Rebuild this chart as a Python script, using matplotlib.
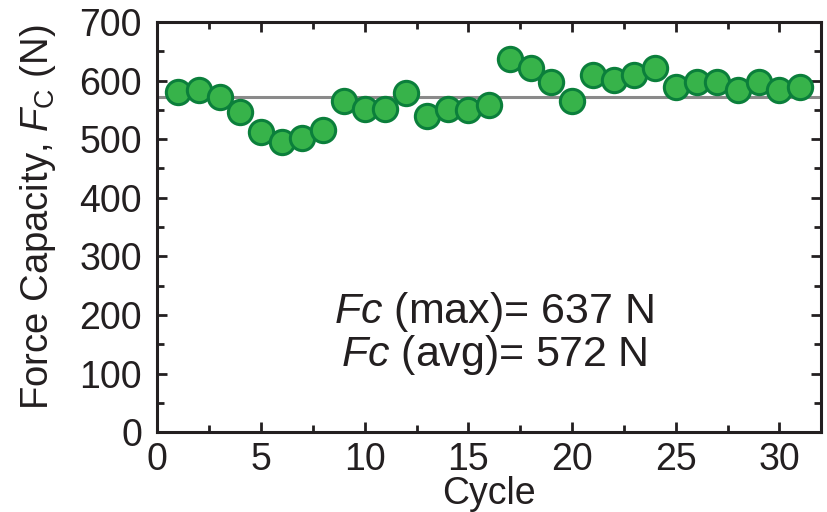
import matplotlib
matplotlib.use('Agg')
import matplotlib.pyplot as plt
from matplotlib.ticker import MultipleLocator

plt.rcParams['font.family'] = ['Liberation Sans', 'DejaVu Sans']
plt.rcParams['mathtext.fontset'] = 'custom'
plt.rcParams['mathtext.rm'] = 'Liberation Sans'
plt.rcParams['mathtext.it'] = 'Liberation Sans:italic'

# force capacity per cycle
cycles = list(range(1, 32))
force = [581, 584, 572, 546, 513, 496, 502, 516, 566, 552, 552, 578, 539, 552, 549, 559,
         637, 622, 597, 565, 609, 601, 609, 622, 589, 597, 597, 584, 597, 584, 589]
fc_max = 637
fc_avg = 572

fig = plt.figure(figsize=(8.28, 5.12), dpi=100)
ax = fig.add_axes([0.19, 0.156, 0.8015, 0.801])

ax.axhline(fc_avg, color='#8a8a8a', lw=2.2, zorder=1)
ax.plot(cycles, force, linestyle='none', marker='o', markersize=17.5,
        markerfacecolor='#37b34a', markeredgecolor='#0b7f3b', markeredgewidth=2.2, zorder=3)

ax.set_xlim(0, 32)
ax.set_ylim(0, 700)
ax.xaxis.set_major_locator(MultipleLocator(5))
ax.xaxis.set_minor_locator(MultipleLocator(2.5))
ax.yaxis.set_major_locator(MultipleLocator(100))
ax.yaxis.set_minor_locator(MultipleLocator(50))
ax.tick_params(which='both', direction='in', top=True, right=True, width=2, color='#231f20')
ax.tick_params(which='major', length=7, labelsize=27, labelcolor='#231f20')
ax.tick_params(axis='x', which='major', pad=7)
ax.tick_params(axis='y', which='major', pad=11)
ax.tick_params(which='minor', length=5)
for sp in ax.spines.values():
    sp.set_linewidth(2.2)
    sp.set_color('#231f20')

ax.set_xlabel('Cycle', fontsize=27, color='#231f20')
ax.xaxis.set_label_coords(0.5, -0.107)
ax.set_ylabel(r'Force Capacity, $F_{\mathrm{C}}$ (N)', fontsize=27.5, color='#231f20')
ax.yaxis.set_label_coords(-0.149, 0.525)

ax.text(0.507, 0.293, r'$Fc$ (max)= ' + str(fc_max) + ' N', transform=ax.transAxes,
        ha='center', va='center', fontsize=31, color='#231f20')
ax.text(0.507, 0.188, r'$Fc$ (avg)= ' + str(fc_avg) + ' N', transform=ax.transAxes,
        ha='center', va='center', fontsize=31, color='#231f20')

fig.savefig('out.png', dpi=100)
